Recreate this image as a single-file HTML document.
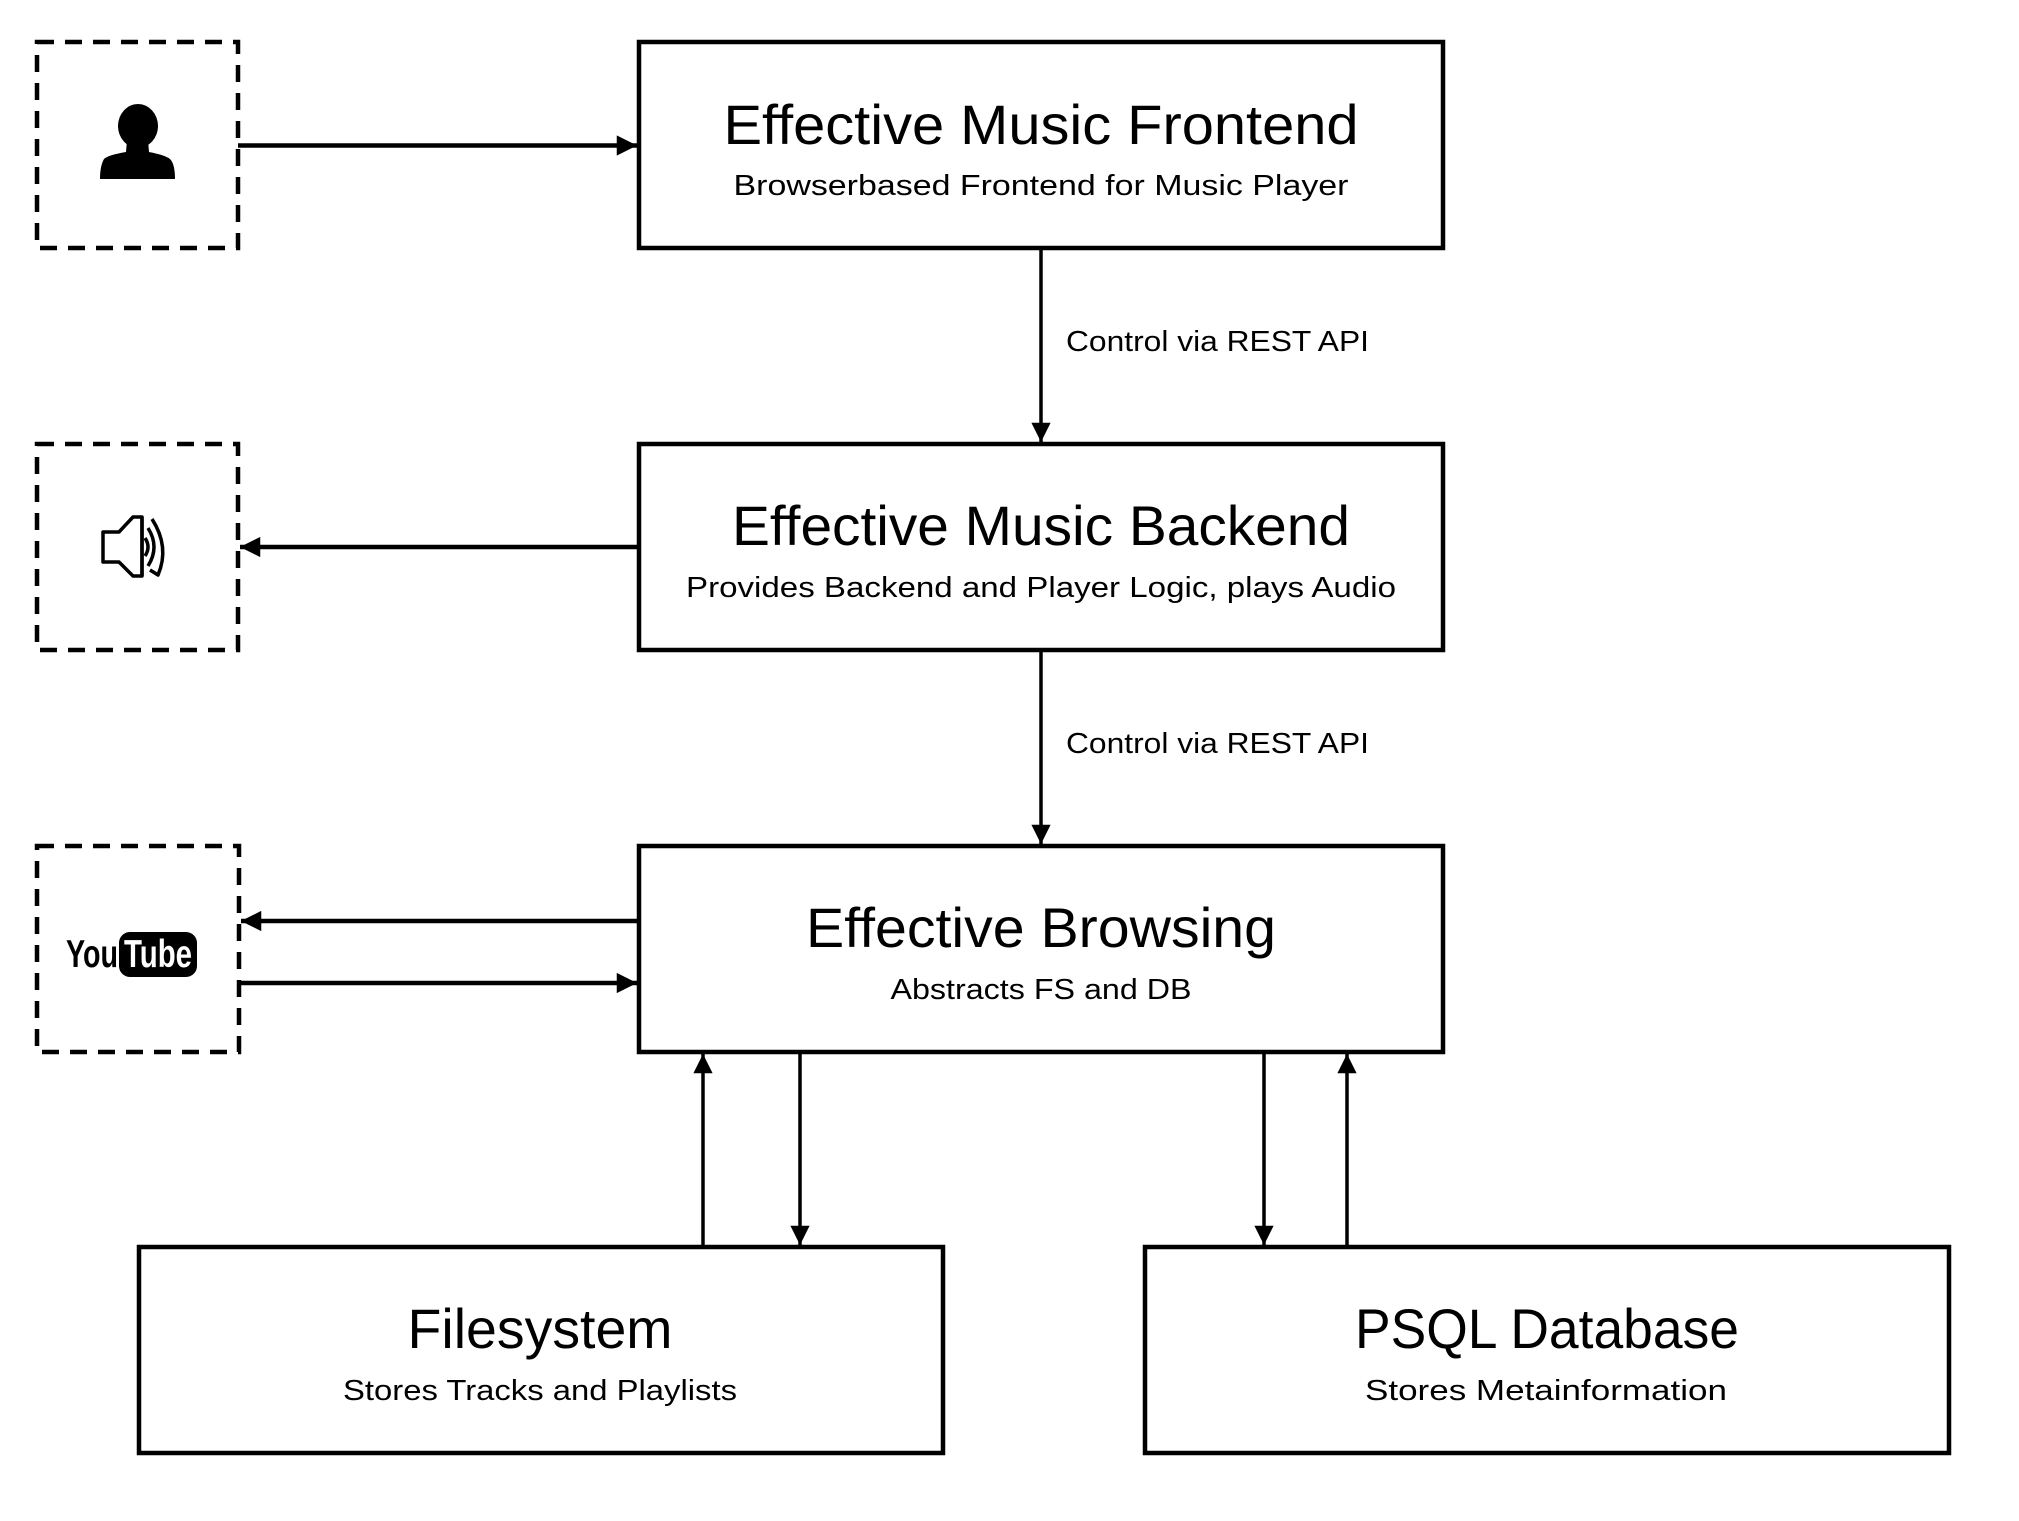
<!DOCTYPE html>
<html><head><meta charset="utf-8"><style>
html,body{margin:0;padding:0;background:#fff;}
svg{display:block;}
text{font-family:"Liberation Sans",sans-serif;fill:#000;}
</style></head><body>
<svg width="2019" height="1521" viewBox="0 0 2019 1521" xmlns="http://www.w3.org/2000/svg">
<defs>
<marker id="ah" viewBox="0 0 10 10" refX="10" refY="5" markerWidth="5" markerHeight="4.5" markerUnits="strokeWidth" orient="auto"><path d="M0,0 L10,5 L0,10 z" fill="#000"/></marker>
<marker id="ah2" viewBox="0 0 10 10" refX="10" refY="5" markerWidth="6" markerHeight="5.5" markerUnits="strokeWidth" orient="auto"><path d="M0,0 L10,5 L0,10 z" fill="#000"/></marker>
</defs>
<rect width="2019" height="1521" fill="#fff"/>
<g fill="none" stroke="#000" stroke-width="4.5" stroke-dasharray="17,11">
<rect x="37" y="42" width="201" height="206"/>
<rect x="37" y="444" width="201" height="206"/>
<rect x="37" y="846" width="202" height="206"/>
</g>
<g fill="none" stroke="#000" stroke-width="4.5">
<rect x="639" y="42" width="804" height="206"/>
<rect x="639" y="444" width="804" height="206"/>
<rect x="639" y="846" width="804" height="206"/>
<rect x="139" y="1247" width="804" height="206"/>
<rect x="1145" y="1247" width="804" height="206"/>
</g>
<g stroke="#000" fill="none">
<line x1="238" y1="145.5" x2="637" y2="145.5" stroke-width="4.5" marker-end="url(#ah)"/>
<line x1="1041" y1="250" x2="1041" y2="442" stroke-width="3.5" marker-end="url(#ah2)"/>
<line x1="637" y1="547" x2="240" y2="547" stroke-width="4.5" marker-end="url(#ah)"/>
<line x1="1041" y1="652" x2="1041" y2="844" stroke-width="3.5" marker-end="url(#ah2)"/>
<line x1="637" y1="921" x2="241" y2="921" stroke-width="4.5" marker-end="url(#ah)"/>
<line x1="239" y1="983" x2="637" y2="983" stroke-width="4.5" marker-end="url(#ah)"/>
<line x1="703" y1="1245" x2="703" y2="1054" stroke-width="3.5" marker-end="url(#ah2)"/>
<line x1="800" y1="1054" x2="800" y2="1245" stroke-width="3.5" marker-end="url(#ah2)"/>
<line x1="1264" y1="1054" x2="1264" y2="1245" stroke-width="3.5" marker-end="url(#ah2)"/>
<line x1="1347" y1="1245" x2="1347" y2="1054" stroke-width="3.5" marker-end="url(#ah2)"/>
</g>
<!-- person -->
<g fill="#000">
<ellipse cx="138" cy="126" rx="20" ry="22"/>
<path d="M127,140 L126,152 Q108,155 104,159 Q100,166 100,179 L175,179 Q175,164 170,159 Q165,155 149,152 L148,140 z"/>
</g>
<!-- speaker -->
<g fill="none" stroke="#000" stroke-width="3.5" stroke-linejoin="round">
<path d="M103,532 L119,532 L133,517 L142,517 L142,576 L133,576 L119,562 L103,562 z"/>
<line x1="142" y1="517" x2="142" y2="576"/>
<path d="M145,538 Q151,547 145,556"/>
<path d="M148,528 Q160,547 148,566"/>
<path d="M152,519 Q170,547 158,575 L150,570"/>
</g>
<!-- youtube -->
<text x="66" y="967" font-size="39" font-weight="bold" textLength="52" lengthAdjust="spacingAndGlyphs">You</text>
<rect x="119" y="932" width="78" height="45" rx="11" fill="#000"/>
<text x="124" y="967" font-size="39" font-weight="bold" textLength="68" lengthAdjust="spacingAndGlyphs" style="fill:#fff">Tube</text>
<!-- labels -->
<text x="1041" y="144" font-size="56" text-anchor="middle" textLength="635" lengthAdjust="spacingAndGlyphs">Effective Music Frontend</text>
<text x="1041" y="195" font-size="29" text-anchor="middle" textLength="615" lengthAdjust="spacingAndGlyphs">Browserbased Frontend for Music Player</text>
<text x="1066" y="351" font-size="29" textLength="303" lengthAdjust="spacingAndGlyphs">Control via REST API</text>
<text x="1041" y="545" font-size="56" text-anchor="middle" textLength="618" lengthAdjust="spacingAndGlyphs">Effective Music Backend</text>
<text x="1041" y="597" font-size="29" text-anchor="middle" textLength="710" lengthAdjust="spacingAndGlyphs">Provides Backend and Player Logic, plays Audio</text>
<text x="1066" y="753" font-size="29" textLength="303" lengthAdjust="spacingAndGlyphs">Control via REST API</text>
<text x="1041" y="947" font-size="56" text-anchor="middle" textLength="470" lengthAdjust="spacingAndGlyphs">Effective Browsing</text>
<text x="1041" y="999" font-size="29" text-anchor="middle" textLength="301" lengthAdjust="spacingAndGlyphs">Abstracts FS and DB</text>
<text x="540" y="1348" font-size="56" text-anchor="middle" textLength="265" lengthAdjust="spacingAndGlyphs">Filesystem</text>
<text x="540" y="1400" font-size="29" text-anchor="middle" textLength="394" lengthAdjust="spacingAndGlyphs">Stores Tracks and Playlists</text>
<text x="1547" y="1348" font-size="56" text-anchor="middle" textLength="384" lengthAdjust="spacingAndGlyphs">PSQL Database</text>
<text x="1546" y="1400" font-size="29" text-anchor="middle" textLength="362" lengthAdjust="spacingAndGlyphs">Stores Metainformation</text>
</svg>
</body></html>
